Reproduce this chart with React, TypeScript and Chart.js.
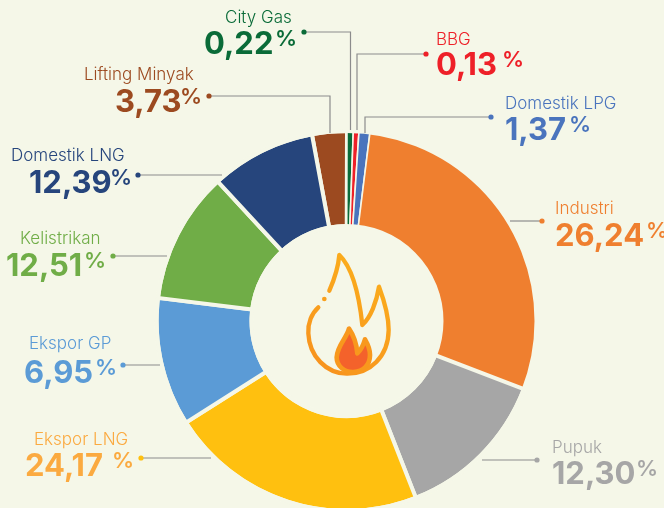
import React, { useEffect, useRef } from "react";
import { Chart, registerables } from "chart.js";

Chart.register(...registerables);

const categories = ["Lifting Minyak", "City Gas", "BBG", "Domestik LPG", "Industri", "Pupuk", "Ekspor LNG", "Ekspor GP", "Kelistrikan", "Domestik LNG"];
// Printed shares
const shareLabels = ["3,73", "0,22", "0,13", "1,37", "26,24", "12,30", "24,17", "6,95", "12,51", "12,39"];
// Slice sizes as they appear in the picture (percent of the ring)
const sliceSizes = [2.958, 0.528, 0.478, 0.925, 28.86, 13.22, 21.97, 10.92, 11.2, 8.94];
const sliceColors = ["#9c4a20", "#0a6b38", "#ee2028", "#4a74bd", "#ef7f2f", "#a6a6a6", "#ffc00f", "#5b9bd6", "#70ad47", "#26457c"];
const textColors = ["#9c4a20", "#0a6b38", "#ee2028", "#4a74bd", "#ef7f2f", "#a6a6a6", "#fbaa40", "#5b9bd6", "#70ad47", "#26457c"];
const borderWidths = [4, 1.6, 1.6, 1.6, 1.6, 4, 4, 4, 4, 4];

const BG = "#f5f7e8";

// label x, label mid y, value x, value baseline, percent x
const textLayout: number[][] = [
  [84, 75, 115, 112, 180],
  [225, 18, 204, 54, 275],
  [436, 40, 436, 75, 502],
  [505, 104, 505, 140, 569],
  [555, 209, 555, 246, 646],
  [552, 448, 552, 484, 636],
  [34, 440, 25, 476, 112],
  [29, 344, 24, 383, 95],
  [20, 239, 6, 276, 84],
  [11, 156, 29, 193, 110],
];
// leader polylines, first point is the dot
const leaders: number[][][] = [
  [[209, 96], [330, 96], [330, 133]],
  [[304, 32], [350.5, 32], [350.5, 130]],
  [[426, 54], [357, 54], [357, 130]],
  [[491, 117], [365, 117], [365, 133]],
  [[542, 221], [510, 221]],
  [[537, 460], [482, 460]],
  [[141, 458], [211, 458]],
  [[123, 365], [160, 365]],
  [[113, 256], [167, 256]],
  [[138, 175], [222, 175]],
];

const FONT = "Inter, 'Noto Sans', sans-serif";

const decorations = {
  id: "decorations",
  afterDatasetsDraw(chart: any) {
    // trim narrow-border slices to the same rim as the wide-border ones
    const ctx: CanvasRenderingContext2D = chart.ctx;
    const arc = chart.getDatasetMeta(0).data[0];
    ctx.save();
    ctx.strokeStyle = BG;
    ctx.lineWidth = 4;
    [arc.outerRadius, arc.innerRadius].forEach((r: number) => {
      ctx.beginPath();
      ctx.arc(arc.x, arc.y, r, 0, Math.PI * 2);
      ctx.stroke();
    });
    ctx.restore();
  },
  afterDraw(chart: any) {
    const ctx: CanvasRenderingContext2D = chart.ctx;
    ctx.save();
    leaders.forEach((pts, i) => {
      ctx.strokeStyle = "#8c8c8c";
      ctx.lineWidth = 1.2;
      ctx.beginPath();
      pts.forEach((p, k) => (k ? ctx.lineTo(p[0], p[1]) : ctx.moveTo(p[0], p[1])));
      ctx.stroke();
      ctx.fillStyle = sliceColors[i];
      ctx.beginPath();
      ctx.arc(pts[0][0], pts[0][1], 2.6, 0, Math.PI * 2);
      ctx.fill();
    });
    categories.forEach((name, i) => {
      const [lx, ly, vx, vb, px] = textLayout[i];
      ctx.fillStyle = textColors[i];
      ctx.textBaseline = "middle";
      ctx.textAlign = "left";
      ctx.font = `300 17px ${FONT}`;
      ctx.fillText(name, lx, ly);
      ctx.textBaseline = "alphabetic";
      ctx.font = `700 31px ${FONT}`;
      ctx.fillText(shareLabels[i], vx, vb);
      ctx.font = `600 22px ${FONT}`;
      ctx.fillText("%", px, vb - 8);
    });

    // flame icon, drawn in 3x coordinates
    ctx.translate(280, 230);
    ctx.scale(1 / 3, 1 / 3);
    const grad = ctx.createLinearGradient(80, 430, 330, 80);
    grad.addColorStop(0, "#f7901e");
    grad.addColorStop(1, "#fbb11c");
    ctx.strokeStyle = grad;
    ctx.lineWidth = 13;
    ctx.lineCap = "round";
    ctx.lineJoin = "round";
    const outer = new Path2D(
      "M115 232 C95 250 83 280 85 310 C88 380 140 430 200 431 C270 432 325 380 326 300 C326 250 310 205 297 170 C290 215 272 262 247 285 C240 220 225 120 178 75 C175 110 162 150 148 182"
    );
    ctx.stroke(outer);
    ctx.fillStyle = grad;
    ctx.beginPath();
    ctx.arc(133, 207, 7, 0, Math.PI * 2);
    ctx.fill();
    const inner = new Path2D(
      "M207 296 C200 325 172 345 170 382 C170 410 195 427 220 426 C250 425 270 405 270 375 C270 355 262 340 255 328 C250 345 243 360 232 370 C230 345 220 315 207 296 Z"
    );
    ctx.fillStyle = "#f4622b";
    ctx.fill(inner);
    ctx.strokeStyle = "#f8981d";
    ctx.lineWidth = 14;
    ctx.stroke(inner);
    ctx.restore();
  },
};

export default function App() {
  const ref = useRef<HTMLCanvasElement>(null);
  useEffect(() => {
    const chart = new Chart(ref.current as HTMLCanvasElement, {
      type: "doughnut",
      data: {
        labels: categories,
        datasets: [
          {
            data: sliceSizes,
            backgroundColor: sliceColors,
            borderColor: BG,
            borderWidth: borderWidths,
            borderAlign: "center",
          } as any,
        ],
      },
      options: {
        responsive: false,
        animation: false,
        radius: 190,
        cutout: "50%",
        rotation: -10.5,
        layout: { padding: { left: 29, top: 134, right: 0, bottom: 0 } },
        plugins: { legend: { display: false }, tooltip: { enabled: false } },
      } as any,
      plugins: [decorations],
    });
    return () => chart.destroy();
  }, []);
  return (
    <div style={{ position: "fixed", left: 0, top: 0, width: 664, height: 508, background: BG, overflow: "hidden" }}>
      <canvas ref={ref} width={664} height={508} style={{ display: "block" }} />
    </div>
  );
}
